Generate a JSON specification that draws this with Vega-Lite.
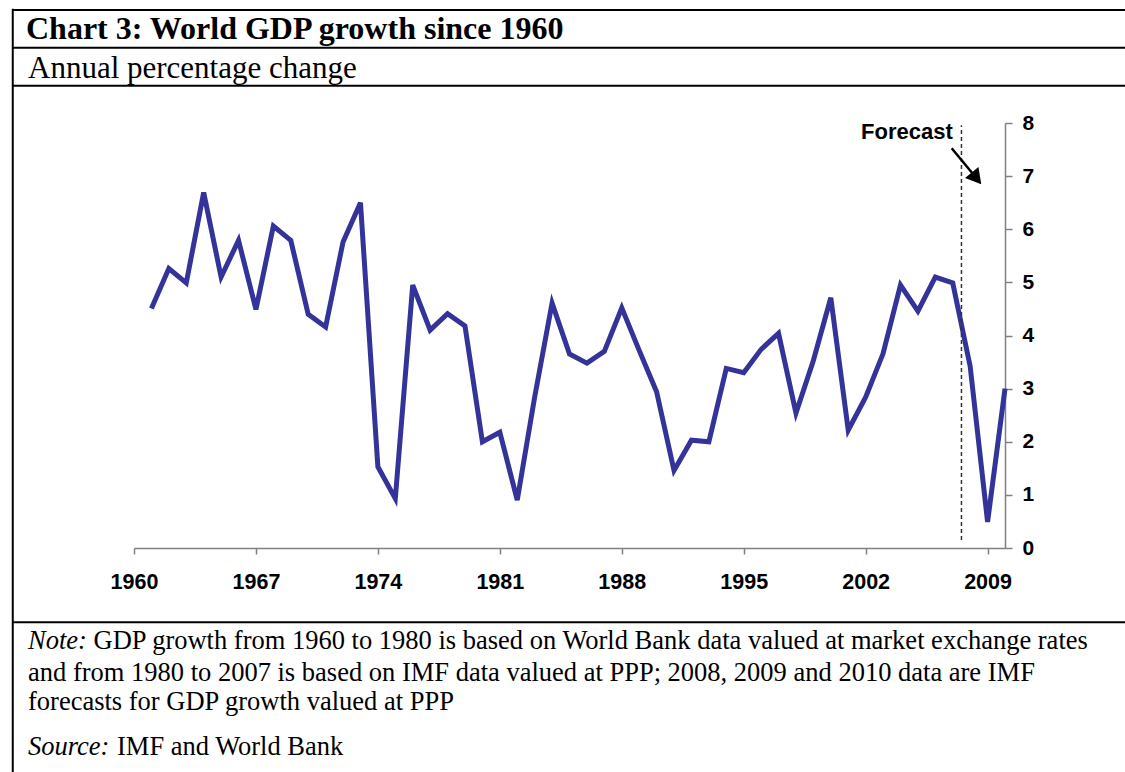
{
  "$schema": "https://vega.github.io/schema/vega-lite/v6.json",
  "width": 871,
  "height": 425,
  "autosize": {"type": "none"},
  "padding": {"left": 134, "top": 123, "right": 120, "bottom": 224},
  "background": "white",
  "config": {"view": {"stroke": null}},
  "layer": [
    {
      "data": {
        "values": [
          {"year": 1961, "growth": 4.51}, {"year": 1962, "growth": 5.26}, {"year": 1963, "growth": 4.99},
          {"year": 1964, "growth": 6.69}, {"year": 1965, "growth": 5.10}, {"year": 1966, "growth": 5.79},
          {"year": 1967, "growth": 4.49}, {"year": 1968, "growth": 6.06}, {"year": 1969, "growth": 5.79},
          {"year": 1970, "growth": 4.40}, {"year": 1971, "growth": 4.16}, {"year": 1972, "growth": 5.76},
          {"year": 1973, "growth": 6.50}, {"year": 1974, "growth": 1.53}, {"year": 1975, "growth": 0.93},
          {"year": 1976, "growth": 4.95}, {"year": 1977, "growth": 4.10}, {"year": 1978, "growth": 4.41},
          {"year": 1979, "growth": 4.18}, {"year": 1980, "growth": 2.00}, {"year": 1981, "growth": 2.18},
          {"year": 1982, "growth": 0.90}, {"year": 1983, "growth": 2.84}, {"year": 1984, "growth": 4.61},
          {"year": 1985, "growth": 3.65}, {"year": 1986, "growth": 3.48}, {"year": 1987, "growth": 3.70},
          {"year": 1988, "growth": 4.52}, {"year": 1989, "growth": 3.72}, {"year": 1990, "growth": 2.94},
          {"year": 1991, "growth": 1.46}, {"year": 1992, "growth": 2.03}, {"year": 1993, "growth": 2.00},
          {"year": 1994, "growth": 3.38}, {"year": 1995, "growth": 3.30}, {"year": 1996, "growth": 3.74},
          {"year": 1997, "growth": 4.04}, {"year": 1998, "growth": 2.54}, {"year": 1999, "growth": 3.53},
          {"year": 2000, "growth": 4.71}, {"year": 2001, "growth": 2.22}, {"year": 2002, "growth": 2.84},
          {"year": 2003, "growth": 3.66}, {"year": 2004, "growth": 4.95}, {"year": 2005, "growth": 4.46},
          {"year": 2006, "growth": 5.10}, {"year": 2007, "growth": 4.99}, {"year": 2008, "growth": 3.42},
          {"year": 2009, "growth": 0.49}, {"year": 2010, "growth": 3.00}
        ]
      },
      "mark": {"type": "line", "color": "#333399", "strokeWidth": 5},
      "encoding": {
        "x": {
          "field": "year",
          "type": "quantitative",
          "scale": {"domain": [1960, 2010], "nice": false, "zero": false},
          "axis": {
            "title": null,
            "values": [1960, 1967, 1974, 1981, 1988, 1995, 2002, 2009],
            "format": "d",
            "grid": false,
            "domainColor": "#808080",
            "domainWidth": 1.5,
            "tickColor": "#808080",
            "tickWidth": 1.5,
            "tickSize": 6,
            "labelFont": "Liberation Sans",
            "labelFontWeight": "bold",
            "labelFontSize": 21.5,
            "labelColor": "black",
            "labelPadding": 17,
            "labelFlush": false,
            "labelOverlap": false
          }
        },
        "y": {
          "field": "growth",
          "type": "quantitative",
          "scale": {"domain": [0, 8], "nice": false, "zero": true},
          "axis": {
            "orient": "right",
            "title": null,
            "values": [0, 1, 2, 3, 4, 5, 6, 7, 8],
            "format": "d",
            "grid": false,
            "domainColor": "#808080",
            "domainWidth": 1.5,
            "tickColor": "#808080",
            "tickWidth": 1.5,
            "tickSize": 7,
            "labelFont": "Liberation Sans",
            "labelFontWeight": "bold",
            "labelFontSize": 21,
            "labelColor": "black",
            "labelPadding": 10,
            "labelFlush": false,
            "labelOverlap": false
          }
        }
      }
    },
    {
      "data": {"values": [{}]},
      "mark": {"type": "rule", "color": "#333333", "strokeWidth": 1.5, "strokeDash": [4, 3]},
      "encoding": {
        "x": {"datum": 2007.5, "type": "quantitative"},
        "y": {"datum": 0.15, "type": "quantitative"},
        "y2": {"datum": 7.96}
      }
    },
    {
      "data": {"values": [{}]},
      "mark": {"type": "text", "font": "Liberation Sans", "fontWeight": "bold", "fontSize": 22, "align": "right", "baseline": "middle", "color": "black"},
      "encoding": {
        "x": {"datum": 2007.0, "type": "quantitative"},
        "y": {"datum": 7.84, "type": "quantitative"},
        "text": {"value": "Forecast"}
      }
    },
    {
      "data": {"values": [{}]},
      "mark": {"type": "rule", "color": "black", "strokeWidth": 2.5},
      "encoding": {
        "x": {"datum": 2006.94, "type": "quantitative"},
        "y": {"datum": 7.524, "type": "quantitative"},
        "x2": {"datum": 2008.105},
        "y2": {"datum": 7.063}
      }
    },
    {
      "data": {"values": [{}]},
      "mark": {"type": "point", "shape": "triangle-up", "filled": true, "color": "black", "opacity": 1, "size": 300, "angle": 140.6},
      "encoding": {
        "x": {"datum": 2008.364, "type": "quantitative"},
        "y": {"datum": 6.957, "type": "quantitative"}
      }
    },
    {
      "data": {"values": [{}]},
      "mark": {"type": "rule", "color": "black", "strokeWidth": 2},
      "encoding": {
        "x": {"datum": 1953.04, "type": "quantitative"},
        "y": {"datum": 10.15, "type": "quantitative"},
        "y2": {"datum": -4.4}
      }
    },
    {
      "data": {"values": [{}]},
      "mark": {"type": "rule", "color": "black", "strokeWidth": 2},
      "encoding": {
        "x": {"datum": 1953.04, "type": "quantitative"},
        "x2": {"datum": 2017},
        "y": {"datum": 10.127, "type": "quantitative"}
      }
    },
    {
      "data": {"values": [{}]},
      "mark": {"type": "rule", "color": "black", "strokeWidth": 2},
      "encoding": {
        "x": {"datum": 1953.04, "type": "quantitative"},
        "x2": {"datum": 2017},
        "y": {"datum": 9.418, "type": "quantitative"}
      }
    },
    {
      "data": {"values": [{}]},
      "mark": {"type": "rule", "color": "black", "strokeWidth": 2},
      "encoding": {
        "x": {"datum": 1953.04, "type": "quantitative"},
        "x2": {"datum": 2017},
        "y": {"datum": 8.702, "type": "quantitative"}
      }
    },
    {
      "data": {"values": [{}]},
      "mark": {"type": "rule", "color": "black", "strokeWidth": 2},
      "encoding": {
        "x": {"datum": 1953.04, "type": "quantitative"},
        "x2": {"datum": 2017},
        "y": {"datum": -1.399, "type": "quantitative"}
      }
    },
    {
      "data": {"values": [{}]},
      "mark": {"type": "text", "font": "Liberation Serif", "fontWeight": "bold", "fontSize": 32, "align": "left", "baseline": "alphabetic", "color": "black"},
      "encoding": {
        "x": {"datum": 1953.80, "type": "quantitative"},
        "y": {"datum": 9.581, "type": "quantitative"},
        "text": {"value": "Chart 3: World GDP growth since 1960"}
      }
    },
    {
      "data": {"values": [{}]},
      "mark": {"type": "text", "font": "Liberation Serif", "fontSize": 31, "align": "left", "baseline": "alphabetic", "color": "black"},
      "encoding": {
        "x": {"datum": 1953.915, "type": "quantitative"},
        "y": {"datum": 8.847, "type": "quantitative"},
        "text": {"value": "Annual percentage change"}
      }
    },
    {
      "data": {"values": [{}]},
      "mark": {"type": "text", "font": "Liberation Serif", "fontStyle": "italic", "fontSize": 26.5, "align": "left", "baseline": "alphabetic", "color": "black"},
      "encoding": {
        "x": {"datum": 1953.915, "type": "quantitative"},
        "y": {"datum": -1.901, "type": "quantitative"},
        "text": {"value": "Note:"}
      }
    },
    {
      "data": {"values": [{}]},
      "mark": {"type": "text", "font": "Liberation Serif", "fontSize": 26.5, "align": "left", "baseline": "alphabetic", "color": "black"},
      "encoding": {
        "x": {"datum": 1957.675, "type": "quantitative"},
        "y": {"datum": -1.901, "type": "quantitative"},
        "text": {"value": "GDP growth from 1960 to 1980 is based on World Bank data valued at market exchange rates"}
      }
    },
    {
      "data": {"values": [{}]},
      "mark": {"type": "text", "font": "Liberation Serif", "fontSize": 26.5, "align": "left", "baseline": "alphabetic", "color": "black"},
      "encoding": {
        "x": {"datum": 1953.915, "type": "quantitative"},
        "y": {"datum": -2.504, "type": "quantitative"},
        "text": {"value": "and from 1980 to 2007 is based on IMF data valued at PPP; 2008, 2009 and 2010 data are IMF"}
      }
    },
    {
      "data": {"values": [{}]},
      "mark": {"type": "text", "font": "Liberation Serif", "fontSize": 26.5, "align": "left", "baseline": "alphabetic", "color": "black"},
      "encoding": {
        "x": {"datum": 1953.915, "type": "quantitative"},
        "y": {"datum": -3.049, "type": "quantitative"},
        "text": {"value": "forecasts for GDP growth valued at PPP"}
      }
    },
    {
      "data": {"values": [{}]},
      "mark": {"type": "text", "font": "Liberation Serif", "fontStyle": "italic", "fontSize": 26.5, "align": "left", "baseline": "alphabetic", "color": "black"},
      "encoding": {
        "x": {"datum": 1953.915, "type": "quantitative"},
        "y": {"datum": -3.897, "type": "quantitative"},
        "text": {"value": "Source:"}
      }
    },
    {
      "data": {"values": [{}]},
      "mark": {"type": "text", "font": "Liberation Serif", "fontSize": 26.5, "align": "left", "baseline": "alphabetic", "color": "black"},
      "encoding": {
        "x": {"datum": 1959.024, "type": "quantitative"},
        "y": {"datum": -3.897, "type": "quantitative"},
        "text": {"value": "IMF and World Bank"}
      }
    }
  ]
}
